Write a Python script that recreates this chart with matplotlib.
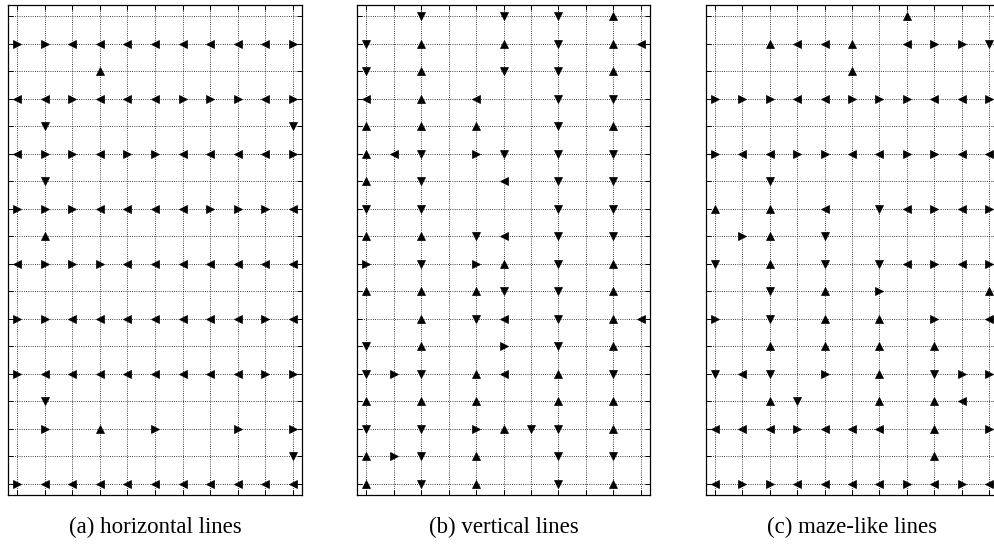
import numpy as np
import matplotlib
matplotlib.use('Agg')
import matplotlib.pyplot as plt

# one string per grid row (top to bottom), one char per column
# '>' right, '<' left, '^' up, 'v' down, '.' empty
rows_h = ["...........",
          ">><<<<<<<<>",
          "...^.......",
          "<<><<<>>><>",
          ".v........v",
          "<>><>><<<<>",
          ".v.........",
          ">>><<<<>>><",
          ".^.........",
          "<>>><<<<<<<",
          "...........",
          ">><<<<<<<><",
          "...........",
          "><<<<<<<<>>",
          ".v.........",
          ".>.^.>..>.>",
          "..........v",
          "><<<<<<<<<<"]

rows_v = ["..v..v.v.^.",
          "v.^..^.v.^<",
          "v.^..v.v.^.",
          "<.^.<..v.v.",
          "^.^.^..v.^.",
          "^<v.>v.v.v.",
          "^.v..<.v.v.",
          "v.v....v.v.",
          "^.^.v<.v.v.",
          ">.v.>^.v.^.",
          "^.^.^v.v.^.",
          "..^.v<.v.^<",
          "v.^..>.v.^.",
          "v>v.^<.^.v.",
          "^.^.^..^.^.",
          "v.v.>^vv.^.",
          "^>v.^..v.v.",
          "^.v.^..v.^."]

rows_m = [".......^...",
          "..^<<^.<>>v",
          ".....^.....",
          ">>><<>>><<>",
          "...........",
          "><<>><<>><<",
          "..v........",
          "^.^.<.v<><>",
          ".>^.v......",
          "v.^.v.v<><>",
          "..v.^.>...^",
          ">.v.^.^.>.<",
          "..^.^.^.^..",
          "v<v.>.^.v>>",
          "..^v..^.^<.",
          "<<<><<<.^.>",
          "........^..",
          "<>><<<<><><"]

captions = ['(a) horizontal lines', '(b) vertical lines', '(c) maze-like lines']
panels = [rows_h, rows_v, rows_m]

fig = plt.figure(figsize=(9.94, 5.44), dpi=100)
lefts = [8/994, 357/994, 706/994]
widths = [294/994, 293/994, 292/994]
bottom = 49/544
height = 490/544

for rows, cap, l, w in zip(panels, captions, lefts, widths):
    ax = fig.add_axes([l, bottom, w, height])
    ncol = len(rows[0])
    nrow = len(rows)
    for m in '<>^v':
        xs = [c for r, s in enumerate(rows) for c, ch in enumerate(s) if ch == m]
        ys = [r for r, s in enumerate(rows) for c, ch in enumerate(s) if ch == m]
        ax.plot(xs, ys, linestyle='none', marker=m, ms=5.6,
                color='k', mec='k', mew=0.5)
    ax.set_xlim(-0.33, ncol - 1 + 0.33)
    ax.set_ylim(nrow - 1 + 0.4, -0.4)
    ax.set_xticks(np.arange(ncol))
    ax.set_yticks(np.arange(nrow))
    ax.tick_params(direction='in', length=3.5, width=0.7, top=True, right=True,
                   labelleft=False, labelbottom=False)
    ax.grid(True, linestyle=':', color='k', lw=0.6)
    for sp in ax.spines.values():
        sp.set_linewidth(0.9)
    fig.text(l + w/2, 1 - 527/544, cap, ha='center', va='center',
             family='Liberation Serif', fontsize=16.5)

fig.savefig('out.png', dpi=100)
